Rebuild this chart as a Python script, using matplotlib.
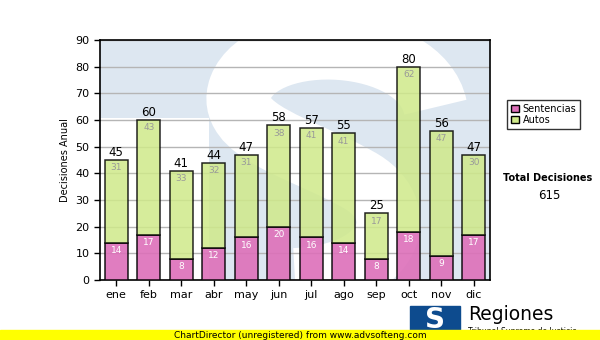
import matplotlib
matplotlib.use("Agg")
import matplotlib.pyplot as plt
from matplotlib.patches import Rectangle, Patch
from matplotlib.path import Path
from matplotlib.patches import PathPatch
import numpy as np

months = ["ene", "feb", "mar", "abr", "may", "jun", "jul", "ago", "sep", "oct", "nov", "dic"]
sentencias = [14, 17, 8, 12, 16, 20, 16, 14, 8, 18, 9, 17]
autos = [31, 43, 33, 32, 31, 38, 41, 41, 17, 62, 47, 30]
yticks = list(range(0, 100, 10))
total_label = "Total Decisiones"

W, H = 600, 340
fig = plt.figure(figsize=(6, 3.4), dpi=100)
fig.patch.set_facecolor("white")

def fx(px):
    return px / W

def fy(py):
    return 1 - py / H

ax = fig.add_axes([fx(100), fy(280), fx(490) - fx(100), fy(40) - fy(280)])
ax.set_facecolor("white")

# watermark (approximate S logo)
blue = "#dde7f1"
ax.add_patch(Rectangle((0, 0.676), 1, 0.324, transform=ax.transAxes, color=blue, zorder=0, lw=0))
ax.add_patch(Rectangle((0.28, 0), 0.72, 0.676, transform=ax.transAxes, color=blue, zorder=0, lw=0))
verts = [(0.86, 0.72), (0.82, 1.02), (0.42, 1.05), (0.36, 0.80),
         (0.32, 0.62), (0.52, 0.55), (0.66, 0.42),
         (0.80, 0.30), (0.76, 0.02), (0.50, 0.0)]
codes = [Path.MOVETO, Path.CURVE4, Path.CURVE4, Path.CURVE4,
         Path.CURVE4, Path.CURVE4, Path.CURVE4,
         Path.CURVE4, Path.CURVE4, Path.CURVE4]
sp = PathPatch(Path(verts, codes), transform=ax.transAxes, facecolor="none",
               edgecolor="white", lw=46, zorder=0.5, capstyle="butt")
ax.add_patch(sp)
sp.set_clip_path(ax.patch)

x = np.arange(len(months))
pink = "#dd6fb9"
green = "#cfe98a"
bw = 0.7
b1 = ax.bar(x, sentencias, bw, color=pink, alpha=0.9, edgecolor="black", linewidth=1.1, zorder=3)
b2 = ax.bar(x, autos, bw, bottom=sentencias, color=green, alpha=0.85, edgecolor="black", linewidth=1.1, zorder=3)

for i in range(len(months)):
    s = sentencias[i]
    a = autos[i]
    t = s + a
    ax.text(x[i], s - 1.2, str(s), ha="center", va="top", fontsize=6.5, color="white", zorder=4)
    ax.text(x[i], t - 1.2, str(a), ha="center", va="top", fontsize=6.5, color="#999999", zorder=4)
    ax.text(x[i], t + 0.4, str(t), ha="center", va="bottom", fontsize=8.5, color="black", zorder=4)

ax.set_xlim(-0.5, len(months) - 0.5)
ax.set_ylim(0, 90)
ax.set_yticks(yticks)
ax.set_xticks(x)
ax.set_xticklabels(months)
ax.yaxis.grid(True, color="#b5b5b5", linewidth=1, zorder=1)
ax.set_axisbelow(True)
ax.tick_params(axis="both", labelsize=8, length=4, direction="out", width=1, colors="black")
for sp_ in ax.spines.values():
    sp_.set_linewidth(1.2)
    sp_.set_color("black")
ax.set_ylabel("Decisiones Anual", fontsize=7, labelpad=4)

handles = [Patch(facecolor=pink, edgecolor="black", label="Sentencias"),
           Patch(facecolor=green, edgecolor="black", label="Autos")]
leg = fig.legend(handles=handles, loc="upper left", bbox_to_anchor=(fx(507), fy(100)),
                 frameon=True, fancybox=False, edgecolor="black", fontsize=7,
                 handlelength=0.8, handleheight=0.8, handletextpad=0.4,
                 borderpad=0.4, labelspacing=0.1, borderaxespad=0)
leg.get_frame().set_linewidth(1)

fig.text(fx(548), fy(178), total_label, ha="center", va="center", fontsize=7, fontweight="bold")
fig.text(fx(549), fy(196), str(sum(sentencias) + sum(autos)), ha="center", va="center", fontsize=8.5)

# logo
fig.patches.append(Rectangle((fx(410), fy(332)), fx(50), fy(306) - fy(332), transform=fig.transFigure,
                             color="#0d4b8e", zorder=1))
fig.text(fx(435), fy(320), "S", ha="center", va="center", fontsize=20, fontweight="bold",
         color="white", zorder=2)
fig.text(fx(468), fy(315), "Regiones", ha="left", va="center", fontsize=13.5, color="black", zorder=2)
fig.text(fx(468), fy(331), "Tribunal Supremo de Justicia", ha="left", va="center", fontsize=5.5,
         color="black", zorder=1)

# yellow footer
fig.patches.append(Rectangle((0, 0), 1, fy(330), transform=fig.transFigure, color="#ffff00", zorder=5))
fig.text(fx(300), fy(335), "ChartDirector (unregistered) from www.advsofteng.com", ha="center",
         va="center", fontsize=6.5, color="black", zorder=6)

fig.savefig("out.png", dpi=100)
